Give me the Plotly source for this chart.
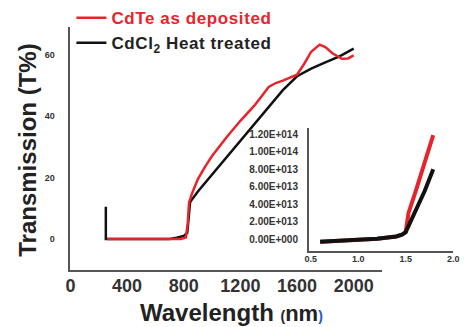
import plotly.graph_objects as go

# Main chart: transmission vs wavelength
red_wl = [260, 300, 400, 500, 600, 700, 780, 815, 828, 838, 860, 900, 950, 1000, 1100, 1200, 1300,
          1400, 1450, 1500, 1560, 1600, 1650, 1700, 1760, 1800, 1850, 1917, 1960, 2000]
red_t = [0, 0, 0, 0, 0, 0, 0, 0.5, 5, 12, 15, 19.5, 23.5, 27, 33, 38.5, 43.5,
         49.5, 50.8, 51.6, 52.6, 53.5, 57, 61, 63.3, 62.5, 60.5, 58.7, 58.8, 59.8]

blk_wl = [250, 250, 300, 500, 700, 750, 800, 825, 835, 845, 900, 1000, 1100, 1200, 1300, 1400, 1500,
          1600, 1700, 1800, 1900, 2000]
blk_t = [10.5, 0, 0, 0, 0, 0.4, 1, 2, 8, 12, 15.5, 21, 26.5, 32, 37.5, 43, 48.5,
         53, 55.5, 57.5, 59.5, 62]

# Inset
in_red_x = [0.6, 0.8, 1.0, 1.2, 1.4, 1.46, 1.5, 1.53, 1.6, 1.7, 1.79]
in_red_y = [-0.3e13, -0.2e13, -0.1e13, 0.05e13, 0.3e13, 0.5e13, 0.8e13, 3.0e13, 5.3e13, 8.6e13, 1.19e14]
in_blk_x = [0.6, 0.8, 1.0, 1.2, 1.4, 1.46, 1.5, 1.6, 1.7, 1.79]
in_blk_y = [-0.3e13, -0.2e13, -0.1e13, 0.05e13, 0.3e13, 0.5e13, 0.8e13, 3.1e13, 5.5e13, 8.0e13]

x_ticks = [0, 400, 800, 1200, 1600, 2000]
y_ticks = [0, 20, 40, 60]
in_x_ticks = [0.5, 1.0, 1.5, 2.0]
in_x_text = ["0.5", "1.0", "1.5", "2.0"]
in_y_ticks = [0, 2e13, 4e13, 6e13, 8e13, 1.0e14, 1.2e14]
in_y_text = ["0.00E+000", "2.00E+013", "4.00E+013", "6.00E+013", "8.00E+013", "1.00E+014", "1.20E+014"]

RED = "#e8242b"
BLK = "#111111"
AX = "#555555"
TXT = "#333333"
W, H = 471, 327
FAM = "Liberation Sans, Arial, sans-serif"

fig = go.Figure()
fig.add_trace(go.Scatter(x=blk_wl, y=blk_t, mode="lines", line=dict(color=BLK, width=2.5),
                         name="<span style='letter-spacing:0.6px'>CdCl<sub>2</sub> Heat treated</span>",
                         legendrank=2))
fig.add_trace(go.Scatter(x=red_wl, y=red_t, mode="lines", line=dict(color=RED, width=2.5),
                         name="<span style='color:%s;letter-spacing:0.6px'>CdTe as deposited</span>" % RED,
                         legendrank=1))
fig.add_trace(go.Scatter(x=in_red_x, y=in_red_y, mode="lines", line=dict(color=RED, width=4),
                         xaxis="x2", yaxis="y2", showlegend=False))
fig.add_trace(go.Scatter(x=in_blk_x, y=in_blk_y, mode="lines", line=dict(color=BLK, width=4),
                         xaxis="x2", yaxis="y2", showlegend=False))

fig.update_layout(
    width=W, height=H,
    margin=dict(l=0, r=0, t=0, b=0),
    paper_bgcolor="white", plot_bgcolor="rgba(0,0,0,0)",
    font=dict(family=FAM, color=TXT),
    xaxis=dict(domain=[67 / W, 386 / W], range=[0, 2200], tickvals=x_ticks,
               showgrid=False, zeroline=False, showline=True, linecolor=AX, linewidth=1.5,
               ticks="", tickfont=dict(size=18, color=TXT, family=FAM, weight="bold"),
               ticklabelstandoff=-2),
    yaxis=dict(domain=[1 - 267 / H, 1 - 10 / H], range=[-10.2, 68.9], tickvals=y_ticks,
               showgrid=False, zeroline=False, showline=True, linecolor=AX, linewidth=1.5,
               ticks="", tickfont=dict(size=9, color=TXT, family=FAM, weight="bold"),
               ticklabelstandoff=12),
    xaxis2=dict(domain=[311 / W, 459 / W], range=[0.48, 2.001], anchor="y2",
                tickvals=in_x_ticks, ticktext=in_x_text,
                showgrid=False, zeroline=False, showline=True, linecolor=AX, linewidth=1.5,
                ticks="", tickfont=dict(size=9, color=TXT, family=FAM, weight="bold"),
                ticklabelstandoff=-2),
    yaxis2=dict(domain=[1 - 247 / H, 1 - 116 / H], range=[-1.4e13, 1.275e14], anchor="x2",
                tickvals=in_y_ticks, ticktext=in_y_text,
                showgrid=False, zeroline=False, showline=True, linecolor=AX, linewidth=1.5,
                ticks="", tickfont=dict(size=10, color=TXT, family=FAM, weight="bold"),
                ticklabelstandoff=7),
    legend=dict(x=68 / W, y=1.058, xanchor="left", yanchor="top", bgcolor="rgba(0,0,0,0)",
                font=dict(size=17, color="#222222", family=FAM, weight="bold"),
                itemwidth=30, tracegroupgap=0),
    annotations=[
        dict(text="<b>Transmission (T%)</b>", x=23 / W, y=1 - 140 / H, xref="paper", yref="paper",
             xanchor="center", yanchor="middle",
             textangle=-90, showarrow=False, font=dict(size=24, color="#222222")),
        dict(text="<b>Wavelength <span style='font-size:14px'>(</span><span style='font-size:22px'>nm</span><span style='font-size:14px;color:#2255cc'>)</span></b>",
             x=232 / W, y=1 - 312 / H, xref="paper", yref="paper",
             xanchor="center", yanchor="middle",
             showarrow=False, font=dict(size=24, color="#222222")),
    ],
)

fig.write_html("out.html", config={"displayModeBar": False},
               post_script="document.body.style.margin='0';document.body.style.overflow='hidden';"
                           "document.documentElement.style.overflow='hidden';")
